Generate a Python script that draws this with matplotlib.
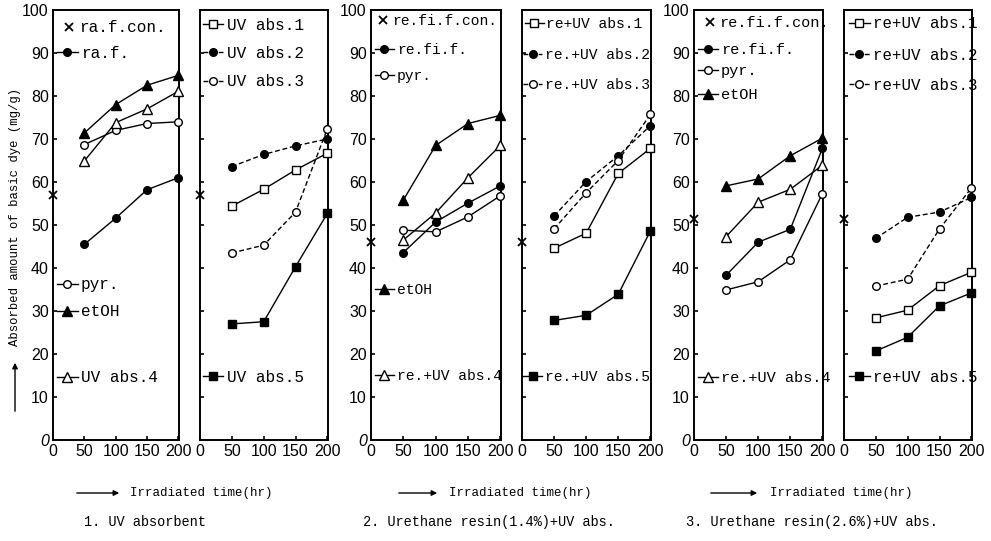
import matplotlib
matplotlib.use("Agg")
import matplotlib.pyplot as plt
from matplotlib.lines import Line2D
from matplotlib.legend import Legend
from matplotlib.patches import FancyArrowPatch

# ---------------- data ----------------
time_hr = [50, 100, 150, 200]
x_ticks = [0, 50, 100, 150, 200]
y_ticks = [0, 10, 20, 30, 40, 50, 60, 70, 80, 90, 100]

# Panel 1: UV absorbent (left)
con_ra = 57.0
ra_f = [45.5, 51.6, 58.2, 61.0]
ra_pyr = [68.7, 72.0, 73.6, 74.0]
ra_etoh = [71.4, 78.0, 82.5, 84.8]
uv_abs4 = [64.9, 73.8, 77.0, 81.1]
# Panel 2: UV absorbent (right)
uv_abs1 = [54.4, 58.3, 62.8, 66.7]
uv_abs2 = [63.6, 66.4, 68.4, 70.0]
uv_abs3 = [43.5, 45.3, 53.0, 72.4]
uv_abs5 = [27.0, 27.5, 40.3, 52.7]
# Panel 3: urethane resin 1.4 % (left)
con_14 = 46.0
refif_14 = [43.6, 50.7, 55.1, 59.1]
pyr_14 = [48.8, 48.4, 51.9, 56.8]
etoh_14 = [55.8, 68.5, 73.6, 75.5]
re_abs4_14 = [46.5, 52.8, 61.0, 68.5]
# Panel 4: urethane resin 1.4 % (right)
re_abs1_14 = [44.6, 48.1, 62.0, 67.8]
re_abs2_14 = [52.1, 60.1, 66.1, 73.1]
re_abs3_14 = [49.1, 57.5, 65.0, 75.7]
re_abs5_14 = [27.8, 29.0, 33.9, 48.6]
# Panel 5: urethane resin 2.6 % (left)
con_26 = 51.5
refif_26 = [38.3, 46.0, 49.0, 67.8]
pyr_26 = [34.9, 36.8, 41.9, 57.3]
etoh_26 = [59.1, 60.7, 66.1, 70.2]
re_abs4_26 = [47.3, 55.3, 58.3, 63.9]
# Panel 6: urethane resin 2.6 % (right)
re_abs1_26 = [28.4, 30.2, 35.9, 39.0]
re_abs2_26 = [46.9, 51.8, 53.0, 56.4]
re_abs3_26 = [35.8, 37.4, 49.1, 58.6]
re_abs5_26 = [20.7, 23.9, 31.2, 34.2]

group_titles = ["1. UV absorbent",
                "2. Urethane resin(1.4%)+UV abs.",
                "3. Urethane resin(2.6%)+UV abs."]
xlabel_text = "Irradiated time(hr)"
ylabel_text = "Absorbed amount of basic dye (mg/g)"

# ---------------- styles ----------------
STY = {
    "fc":  dict(marker="o", mfc="k", ls="-", ms=5.5),
    "oc":  dict(marker="o", mfc="w", ls="-", ms=5.5),
    "ft":  dict(marker="^", mfc="k", ls="-", ms=6.5),
    "ot":  dict(marker="^", mfc="w", ls="-", ms=6.5),
    "os":  dict(marker="s", mfc="w", ls="-", ms=5.5),
    "fs":  dict(marker="s", mfc="k", ls="-", ms=5.5),
    "fcd": dict(marker="o", mfc="k", ls=(0, (3.5, 2)), ms=5.5),
    "ocd": dict(marker="o", mfc="w", ls=(0, (3.5, 2)), ms=5.5),
}

MONO = "Liberation Mono"

W, H = 991, 541
fig = plt.figure(figsize=(W / 100, H / 100), dpi=100)

panel_px = [(53, 179), (200, 328), (371, 501), (522, 651), (694, 823), (844, 972)]
legend_sizes = [11.5, 11.5, 10.5, 10.5, 11.0, 11.3]
top_px, bot_px = 10, 440


def yfrac(py):
    return (bot_px - py) / (bot_px - top_px)


panels = [
    (con_ra, "ra.f.con.", (0.08, 28), [
        (ra_f, "fc", "ra.f.", (0.03, 53)),
        (ra_pyr, "oc", "pyr.", (0.03, 285)),
        (ra_etoh, "ft", "etOH", (0.03, 312)),
        (uv_abs4, "ot", "UV abs.4", (0.03, 378)),
    ], True),
    (con_ra, None, None, [
        (uv_abs1, "os", "UV abs.1", (0.02, 25)),
        (uv_abs2, "fcd", "UV abs.2", (0.02, 53)),
        (uv_abs3, "ocd", "UV abs.3", (0.02, 82)),
        (uv_abs5, "fs", "UV abs.5", (0.02, 377)),
    ], False),
    (con_14, "re.fi.f.con.", (0.05, 21), [
        (refif_14, "fc", "re.fi.f.", (0.03, 50)),
        (pyr_14, "oc", "pyr.", (0.03, 76)),
        (etoh_14, "ft", "etOH", (0.03, 290)),
        (re_abs4_14, "ot", "re.+UV abs.4", (0.03, 376)),
    ], True),
    (con_14, None, None, [
        (re_abs1_14, "os", "re+UV abs.1", (0.02, 24)),
        (re_abs2_14, "fcd", "re.+UV abs.2", (0.01, 55)),
        (re_abs3_14, "ocd", "re.+UV abs.3", (0.01, 85)),
        (re_abs5_14, "fs", "re.+UV abs.5", (0.01, 377)),
    ], False),
    (con_26, "re.fi.f.con.", (0.08, 23), [
        (refif_26, "fc", "re.fi.f.", (0.03, 50)),
        (pyr_26, "oc", "pyr.", (0.03, 71)),
        (etoh_26, "ft", "etOH", (0.03, 95)),
        (re_abs4_26, "ot", "re.+UV abs.4", (0.03, 378)),
    ], True),
    (con_26, None, None, [
        (re_abs1_26, "os", "re+UV abs.1", (0.04, 24)),
        (re_abs2_26, "fcd", "re+UV abs.2", (0.04, 55)),
        (re_abs3_26, "ocd", "re+UV abs.3", (0.04, 85)),
        (re_abs5_26, "fs", "re+UV abs.5", (0.04, 377)),
    ], False),
]


def add_entry(ax, handle, label, x, py, size, hl=1.3):
    leg = Legend(ax, [handle], [label], loc="center left",
                 bbox_to_anchor=(x, yfrac(py)), frameon=False,
                 borderpad=0, borderaxespad=0, handlelength=hl,
                 handletextpad=0.2, prop=dict(family=MONO, size=size),
                 numpoints=1)
    ax.add_artist(leg)
    leg.set_clip_on(False)
    leg.set_clip_path(None)
    for t in leg.get_texts():
        t.set_clip_on(False)


for (l, r), fs, (con, con_label, con_pos, series, show_ylab) in zip(panel_px, legend_sizes, panels):
    ax = fig.add_axes([l / W, (H - bot_px) / H, (r - l) / W, (bot_px - top_px) / H])
    ax.set_xlim(0, 201)
    ax.set_ylim(0, 100)
    ax.set_xticks(x_ticks)
    ax.set_yticks(y_ticks)
    ax.tick_params(direction="in", length=3, width=1.2, labelsize=11.5, pad=3)
    for lab in ax.get_xticklabels() + ax.get_yticklabels():
        lab.set_family("Liberation Sans")
    if not show_ylab:
        ax.set_yticklabels([])
    else:
        ax.get_yticklabels()[0].set_style("italic")
    for sp in ax.spines.values():
        sp.set_linewidth(1.4)

    for vals, sk, lab, (lx, lpy) in series:
        st = STY[sk]
        ax.plot(time_hr, vals, color="k", lw=1.0, ls=st["ls"], marker=st["marker"],
                mfc=st["mfc"], mec="k", mew=1.0, ms=st["ms"], clip_on=False, zorder=3)
        h = Line2D([], [], color="k", lw=1.0, ls=st["ls"], marker=st["marker"],
                   mfc=st["mfc"], mec="k", mew=1.0, ms=st["ms"])
        add_entry(ax, h, lab, lx, lpy, fs)

    ax.plot([0], [con], ls="none", marker="x", color="k", ms=6, mew=1.3,
            clip_on=False, zorder=4)
    if con_label:
        h = Line2D([], [], ls="none", marker="x", color="k", ms=6, mew=1.3)
        add_entry(ax, h, con_label, con_pos[0], con_pos[1], fs, hl=0.8)

# bottom labels
arrow_px = [(74, 122, 130), (396, 440, 449), (708, 760, 770)]
title_px = [84, 363, 686]
for (a0, a1, tx), ttx, title in zip(arrow_px, title_px, group_titles):
    fig.add_artist(FancyArrowPatch(
        (a0 / W, (H - 493) / H), (a1 / W, (H - 493) / H),
        transform=fig.transFigure, arrowstyle="-|>", mutation_scale=8,
        lw=1.0, color="k"))
    fig.text(tx / W, (H - 493) / H, xlabel_text, family=MONO, size=9.0,
             va="center", ha="left")
    fig.text(ttx / W, (H - 522) / H, title, family=MONO, size=9.8,
             va="center", ha="left")

# y label with arrow
fig.text(15 / W, (H - 217) / H, ylabel_text, family=MONO, size=8.8,
         rotation=90, va="center", ha="center")
fig.add_artist(FancyArrowPatch(
    (15 / W, (H - 414) / H), (15 / W, (H - 360) / H),
    transform=fig.transFigure, arrowstyle="-|>", mutation_scale=8,
    lw=1.0, color="k"))

fig.savefig("out.png", dpi=100)
